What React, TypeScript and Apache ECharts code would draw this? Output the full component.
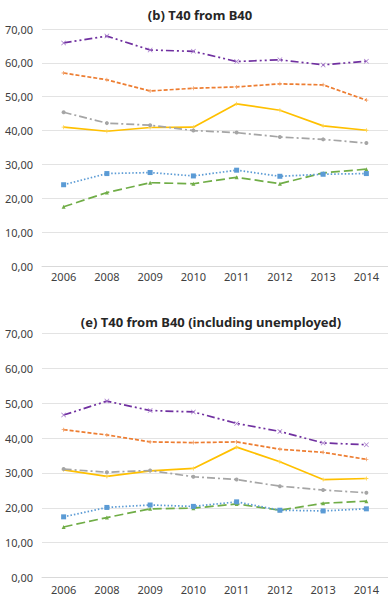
import React, { useEffect, useRef } from "react";
import * as echarts from "echarts";

const years = ["2006", "2008", "2009", "2010", "2011", "2012", "2013", "2014"];
const yTicks = [0, 10, 20, 30, 40, 50, 60, 70];

// (b) T40 from B40
const bPurple = [65.9, 67.9, 63.8, 63.4, 60.4, 60.9, 59.4, 60.5];
const bOrange = [57.0, 55.0, 51.7, 52.5, 52.9, 53.8, 53.5, 49.0];
const bGray = [45.4, 42.2, 41.6, 40.0, 39.4, 38.1, 37.4, 36.3];
const bYellow = [41.0, 39.8, 40.9, 41.0, 47.9, 46.0, 41.4, 40.1];
const bBlue = [24.0, 27.3, 27.6, 26.6, 28.3, 26.5, 27.1, 27.3];
const bGreen = [17.5, 21.7, 24.6, 24.3, 26.2, 24.3, 27.5, 28.6];

// (e) T40 from B40 (including unemployed)
const ePurple = [46.6, 50.6, 47.9, 47.5, 44.2, 41.9, 38.6, 38.1];
const eOrange = [42.4, 40.9, 38.9, 38.7, 38.9, 36.8, 35.9, 33.9];
const eGray = [31.1, 30.2, 30.7, 28.9, 28.1, 26.2, 25.1, 24.3];
const eYellow = [30.9, 29.0, 30.6, 31.3, 37.4, 33.2, 28.1, 28.4];
const eBlue = [17.4, 20.1, 20.8, 20.4, 21.7, 19.3, 19.1, 19.7];
const eGreen = [14.5, 17.2, 19.7, 19.9, 21.1, 19.3, 21.3, 21.9];

const titleB = "(b) T40 from B40";
const titleE = "(e) T40 from B40 (including unemployed)";

const X_SYM = "path://M0,1 L1,0 L5,4 L9,0 L10,1 L6,5 L10,9 L9,10 L5,6 L1,10 L0,9 L4,5 Z";
const PLUS_SYM = "path://M4,0 H6 V4 H10 V6 H6 V10 H4 V6 H0 V4 H4 Z";

const styles = [
  { color: "#7030A0", mark: "#A77BCB", sym: X_SYM, size: 5, type: [8, 3, 2, 3, 2, 3] },
  { color: "#ED7D31", mark: "#F2A068", sym: PLUS_SYM, size: 4, type: [4, 2] },
  { color: "#A5A5A5", mark: "#A5A5A5", sym: "circle", size: 4, type: [8, 3, 2, 3] },
  { color: "#FFC000", mark: "#FFD350", sym: PLUS_SYM, size: 4, type: "solid" },
  { color: "#5B9BD5", mark: "#5B9BD5", sym: "rect", size: 5, type: [1.5, 2] },
  { color: "#70AD47", mark: "#70AD47", sym: "triangle", size: 4, type: [9, 4] },
];

export default function App() {
  const ref = useRef<HTMLDivElement>(null);
  useEffect(() => {
    if (!ref.current) return;
    const chart = echarts.init(ref.current, null, { renderer: "svg" });
    const fmt = (v: number) => v.toFixed(2).replace(".", ",");
    const grids = [
      { left: 42, right: 0, top: 29, height: 237 },
      { left: 42, right: 0, top: 333.5, height: 244 },
    ];
    const xAxes = grids.map((_, i) => ({
      type: "category",
      gridIndex: i,
      data: years,
      boundaryGap: true,
      axisLine: { lineStyle: { color: "#d9d9d9" } },
      axisTick: { show: false },
      axisLabel: { color: "#404040", fontSize: 11, fontFamily: "Noto Sans", margin: i === 0 ? 5 : 6 },
    }));
    const yAxes = grids.map((_, i) => ({
      type: "value",
      gridIndex: i,
      min: yTicks[0],
      max: yTicks[yTicks.length - 1],
      interval: 10,
      axisLine: { show: false },
      axisTick: { show: false },
      splitLine: { lineStyle: { color: "#e3e3e3" } },
      axisLabel: { color: "#404040", fontSize: 11, fontFamily: "Noto Sans", margin: 9, formatter: fmt },
    }));
    const sets = [
      [bPurple, bOrange, bGray, bYellow, bBlue, bGreen],
      [ePurple, eOrange, eGray, eYellow, eBlue, eGreen],
    ];
    const series: any[] = [];
    sets.forEach((set, gi) => {
      set.forEach((data, si) => {
        const s = styles[si];
        series.push({
          type: "line",
          xAxisIndex: gi,
          yAxisIndex: gi,
          data,
          symbol: s.sym,
          symbolSize: s.size,
          showAllSymbol: true,
          lineStyle: { color: s.color, width: 1.7, type: s.type },
          itemStyle: { color: s.mark },
          z: 10 - si,
        });
      });
    });
    chart.setOption({
      animation: false,
      backgroundColor: "#ffffff",
      grid: grids,
      xAxis: xAxes,
      yAxis: yAxes,
      series,
      graphic: [
        {
          type: "text",
          x: 200,
          y: 15,
          style: {
            text: titleB,
            fill: "#262626",
            font: "bold 13px 'Noto Sans'",
            align: "center",
            verticalAlign: "middle",
          },
        },
        {
          type: "text",
          x: 211,
          y: 322,
          style: {
            text: titleE,
            fill: "#262626",
            font: "bold 13px 'Noto Sans'",
            align: "center",
            verticalAlign: "middle",
          },
        },
      ],
    });
    return () => chart.dispose();
  }, []);
  return (
    <div
      ref={ref}
      style={{ position: "absolute", left: 0, top: 0, width: 388, height: 601, background: "#fff" }}
    />
  );
}
